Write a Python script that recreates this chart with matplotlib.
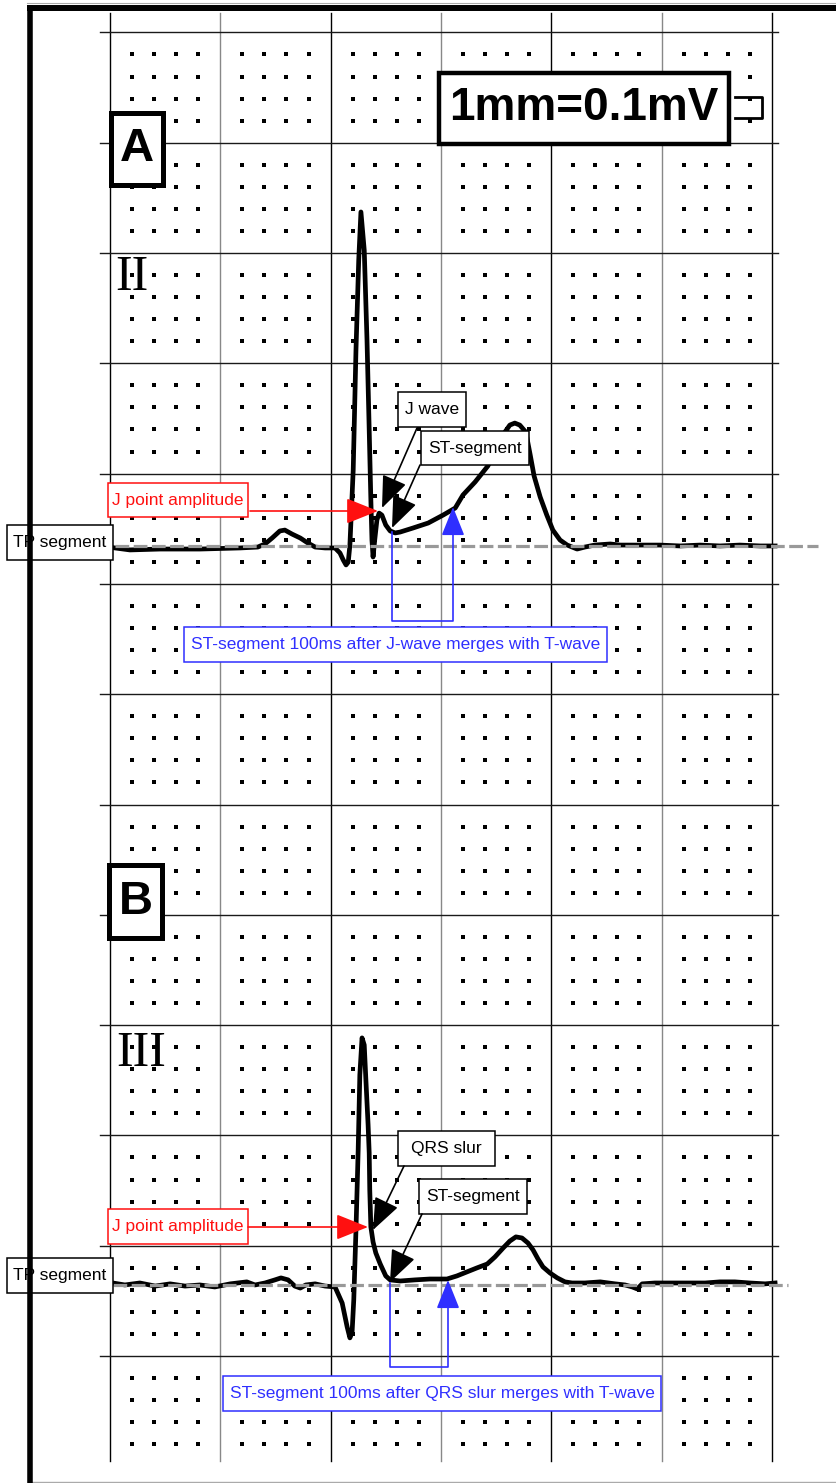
import matplotlib.pyplot as plt
from matplotlib.patches import Rectangle

# panel A, lead II: time (ms) and amplitude (mV) above the TP baseline
t_A = [9, 36, 91, 163, 236, 268, 281, 294, 308, 317, 330, 345, 359, 372, 390,
       408, 417, 423, 428, 432, 435, 441, 446, 451, 455, 461, 466, 470, 473, 475,
       477, 480, 484, 488, 493, 500, 508, 517, 526, 549, 577, 604, 626, 640, 662,
       685, 702, 716, 725, 734, 743, 754, 762, 769, 780, 792, 803, 816, 829, 847,
       861, 879, 907, 925, 961, 997, 1034, 1070, 1106, 1142, 1179, 1206]
mv_A = [-0.010, -0.019, -0.015, -0.015, -0.010, -0.006, 0.008, 0.035, 0.067, 0.071,
        0.053, 0.035, 0.012, -0.006, -0.010, -0.010, -0.033, -0.065, -0.087, -0.074,
        0.003, 0.343, 0.887, 1.295, 1.513, 1.340, 0.932, 0.524, 0.207, 0.026,
        -0.051, 0.026, 0.117, 0.148, 0.139, 0.094, 0.067, 0.058, 0.062, 0.080,
        0.103, 0.139, 0.171, 0.230, 0.289, 0.361, 0.443, 0.515, 0.547, 0.556,
        0.547, 0.515, 0.411, 0.316, 0.221, 0.139, 0.071, 0.026, 0.003, -0.015,
        -0.006, 0.003, 0.008, 0.003, 0.003, 0.003, -0.001, 0.003, -0.001, 0.003,
        -0.001, -0.001]

# panel B, lead III
t_B = [5, 27, 54, 82, 109, 136, 163, 190, 218, 248, 263, 281, 299, 310, 323,
       335, 345, 355, 372, 390, 408, 421, 430, 435, 439, 442, 446, 450, 453, 457,
       461, 464, 468, 470, 471, 473, 477, 482, 490, 495, 500, 508, 526, 553, 580,
       611, 629, 647, 665, 684, 698, 713, 725, 736, 747, 758, 767, 776, 785, 798,
       811, 825, 838, 861, 889, 916, 934, 947, 956, 965, 988, 1015, 1052, 1079,
       1106, 1133, 1160, 1188, 1206]
mv_B = [0.009, 0.0, 0.009, -0.005, 0.005, -0.005, 0.0, -0.009, 0.005, 0.014,
        0.0, 0.009, 0.023, 0.032, 0.023, -0.005, -0.014, 0.0, 0.005, -0.005,
        -0.009, -0.082, -0.190, -0.240, -0.213, -0.068, 0.249, 0.612, 0.952, 1.120,
        1.088, 0.929, 0.725, 0.598, 0.431, 0.263, 0.195, 0.145, 0.095, 0.068,
        0.041, 0.023, 0.018, 0.023, 0.027, 0.027, 0.041, 0.059, 0.077, 0.095,
        0.127, 0.168, 0.199, 0.218, 0.213, 0.190, 0.159, 0.118, 0.082, 0.054,
        0.032, 0.014, 0.009, 0.009, 0.014, 0.005, 0.0, -0.009, -0.018, 0.005,
        0.009, 0.009, 0.009, 0.009, 0.014, 0.014, 0.009, 0.005, 0.009]

base_A = 3.673   # TP baseline of each strip, mV above the lowest grid line
base_B = 0.322

big_ms, big_mv = 200, 0.5      # 5 mm squares
small_ms, small_mv = 40, 0.1   # 1 mm
n_cols, n_rows = 6, 12

# picture scale: one big square is 110.3 px
ms_px = big_ms / 110.3
mv_px = big_mv / 110.3
X0, Y0 = 110, 1356


def P(px, py):
    return (px - X0) * ms_px, (Y0 - py) * mv_px


fig = plt.figure(figsize=(8.37, 14.83), dpi=100)
ax = fig.add_axes([0, 0, 1, 1])
x_lo, y_lo = P(0, 1483)
x_hi, y_hi = P(837, 0)
ax.set_xlim(x_lo, x_hi)
ax.set_ylim(y_lo, y_hi)
ax.axis('off')

# grid
yt, yb = P(0, 13)[1], P(0, 1461)[1]
for k in range(n_cols + 1):
    ax.plot([k * big_ms] * 2, [yb, yt], color='k' if k % 2 == 0 else '#888888',
            lw=1.0, zorder=1)
xl, xr = P(100, 0)[0], P(778, 0)[0]
for k in range(n_rows + 1):
    ax.plot([xl, xr], [k * big_mv] * 2, color='#1a1a1a', lw=1.0, zorder=1)

dot_x, dot_y = [], []
for i in range(1, n_cols * 5):
    if i % 5 == 0:
        continue
    for j in range(-4, n_rows * 5):
        if j % 5 == 0:
            continue
        dot_x.append(i * small_ms)
        dot_y.append(j * small_mv)
ax.scatter(dot_x, dot_y, marker='s', s=7, color='k', linewidths=0, zorder=1)

# traces
ax.plot(t_A, [base_A + v for v in mv_A], color='k', lw=3.4, zorder=3,
        solid_joinstyle='round')
ax.plot(t_B, [base_B + v for v in mv_B], color='k', lw=3.4, zorder=3,
        solid_joinstyle='round')

# TP baselines
ax.plot([P(115, 0)[0], P(818, 0)[0]], [base_A] * 2, color='#999999', lw=2.3,
        dashes=(4.3, 1.4), zorder=4)
ax.plot([P(113, 0)[0], P(788, 0)[0]], [base_B] * 2, color='#999999', lw=2.3,
        dashes=(4.3, 1.4), zorder=4)

red = '#ff1010'
blue = '#2f2fff'


def box(x0, y0, x1, y1, text, color='k', lw=1.1, size=12.5, weight='normal'):
    a, b = P(x0, y1)
    c, d = P(x1, y0)
    ax.add_patch(Rectangle((a, b), c - a, d - b, facecolor='white',
                           edgecolor=color, lw=lw, zorder=5))
    ax.text((a + c) / 2, (b + d) / 2, text, color=color, ha='center',
            va='center', fontsize=size, fontweight=weight,
            family='Liberation Sans', zorder=5.5)


def arrow(p0, p1, color='k', hl=1.0, hw=0.4, lw=1.2):
    ax.annotate('', xy=P(*p1), xytext=P(*p0), zorder=6,
                arrowprops=dict(arrowstyle=f'-|>,head_length={hl},head_width={hw}',
                                color=color, lw=lw, shrinkA=0, shrinkB=0,
                                mutation_scale=20))


def bracket(xa, xb, ytop, ybot, ytip):
    ax.plot([P(xa, 0)[0], P(xa, 0)[0], P(xb, 0)[0], P(xb, 0)[0]],
            [P(0, ytop)[1], P(0, ybot)[1], P(0, ybot)[1], P(0, ytip + 20)[1]],
            color=blue, lw=1.2, zorder=6)
    arrow((xb, ytip + 25), (xb, ytip), color=blue, hl=0.9, hw=0.36)


# panel A annotations
box(439, 73, 729, 144, '1mm=0.1mV', lw=3.2, size=33, weight='bold')
cx = [P(735, 0)[0], P(762, 0)[0], P(762, 0)[0], P(735, 0)[0]]
cy = [P(0, 97)[1], P(0, 97)[1], P(0, 118)[1], P(0, 118)[1]]
ax.plot(cx, cy, color='k', lw=2, zorder=5)
box(111, 113, 163, 185, 'A', lw=3.6, size=34, weight='bold')
ax.text(*P(132, 278), 'II', ha='center', va='center', fontsize=36,
        family='Liberation Serif', zorder=5)
box(7, 525, 113, 560, 'TP segment')
box(108, 483, 248, 517, 'J point amplitude', color=red)
arrow((250, 511), (378, 511), color=red)
box(398, 392, 466, 427, 'J wave')
box(421, 431, 529, 465, 'ST-segment')
arrow((417, 428), (382, 508))
arrow((420, 465), (392, 528))
bracket(392, 453, 532, 621, 507)
box(184, 627, 607, 662, 'ST-segment 100ms after J-wave merges with T-wave',
    color=blue)

# panel B annotations
box(109, 865, 162, 938, 'B', lw=3.6, size=34, weight='bold')
ax.text(*P(141, 1054), 'III', ha='center', va='center', fontsize=36,
        family='Liberation Serif', zorder=5)
box(7, 1258, 113, 1293, 'TP segment')
box(108, 1209, 248, 1244, 'J point amplitude', color=red)
arrow((248, 1227), (368, 1227), color=red)
box(398, 1131, 495, 1166, 'QRS slur')
box(419, 1179, 527, 1214, 'ST-segment')
arrow((404, 1166), (373, 1230))
arrow((422, 1214), (390, 1282))
bracket(390, 448, 1283, 1367, 1280)
box(223, 1376, 661, 1411, 'ST-segment 100ms after QRS slur merges with T-wave',
    color=blue)

# outer frame
ax.plot([P(29.5, 0)[0]] * 2, [P(0, 5)[1], y_lo], color='k', lw=4, zorder=10,
        solid_capstyle='butt', clip_on=False)
ax.plot([P(27, 0)[0], x_hi], [P(0, 8)[1]] * 2, color='k', lw=4.3, zorder=10,
        solid_capstyle='butt', clip_on=False)
ax.plot([P(27, 0)[0], x_hi], [P(0, 3)[1]] * 2, color='#aaaaaa', lw=0.8, zorder=9)
ax.plot([P(30, 0)[0], x_hi], [P(0, 1482)[1]] * 2, color='#aaaaaa', lw=1.0, zorder=9)

plt.savefig('out.png', dpi=100)
